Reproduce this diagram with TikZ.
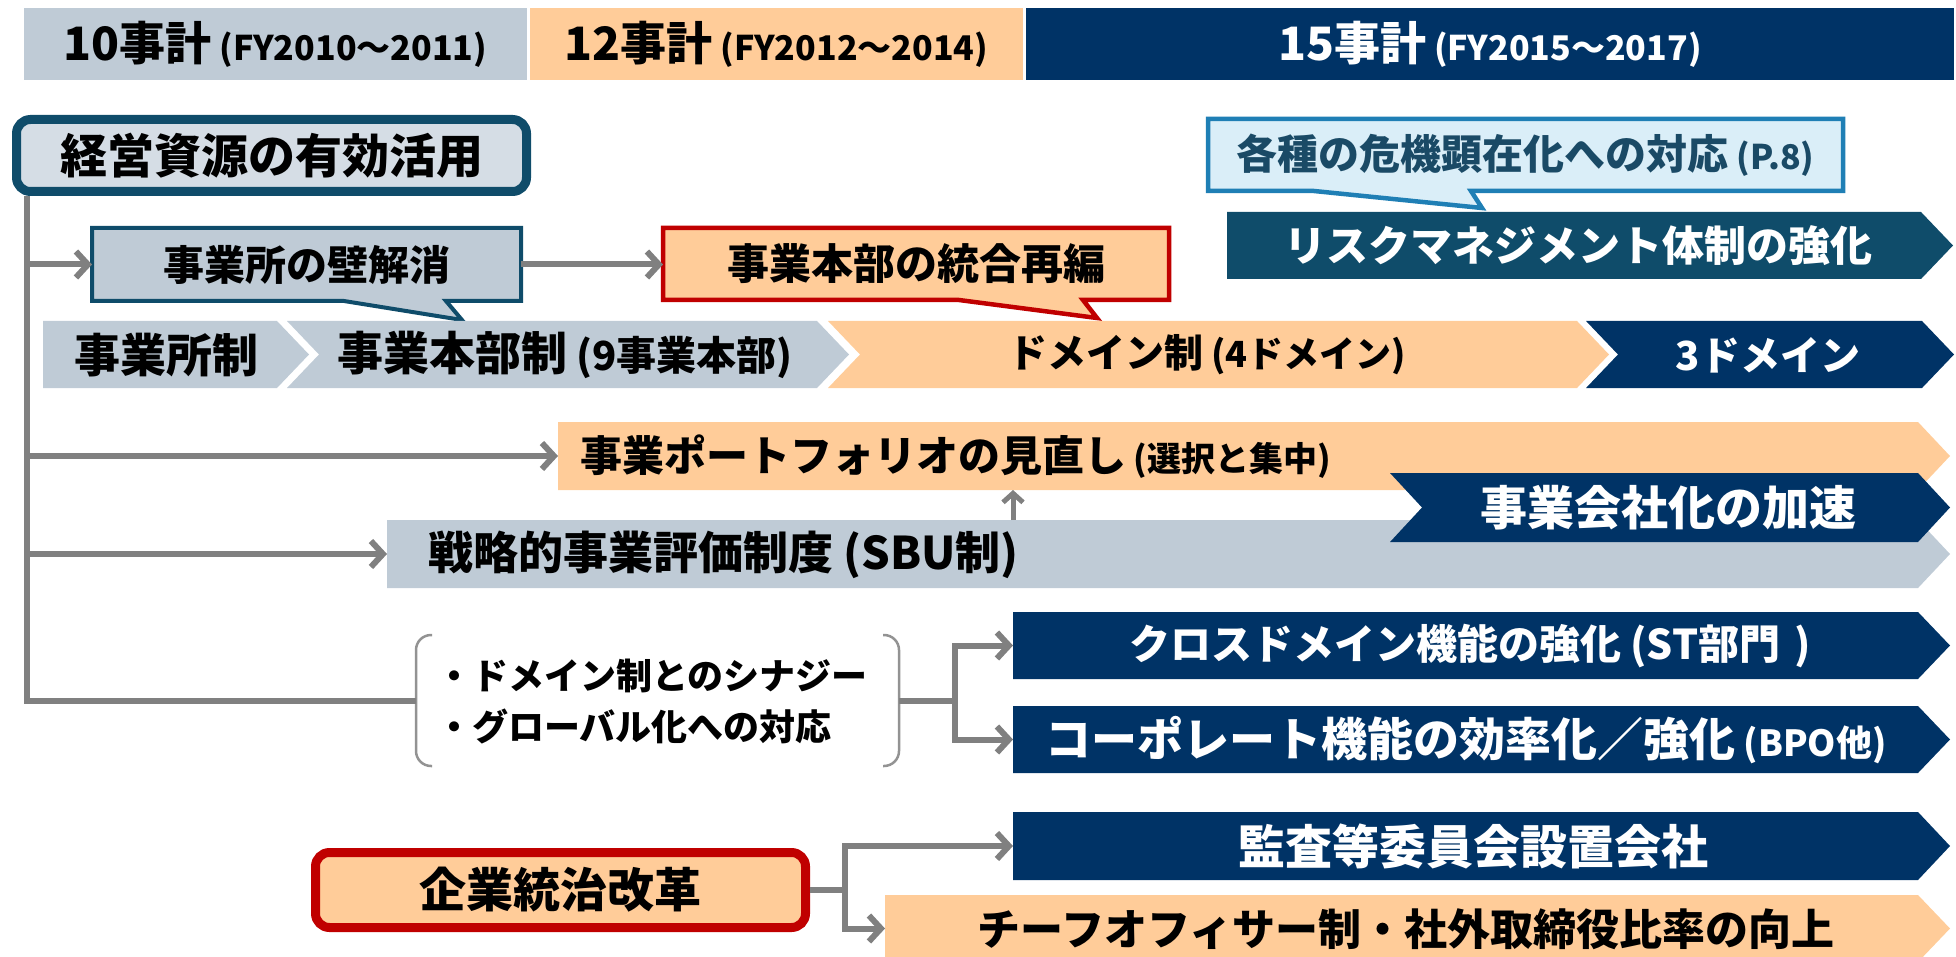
\documentclass[tikz,border=0pt]{standalone}
\usepackage{fontspec}
\setmainfont{Noto Sans CJK JP}
\usetikzlibrary{arrows.meta}
\definecolor{gb}{HTML}{BFCBD6}
\definecolor{gbl}{HTML}{D5DDE5}
\definecolor{orn}{HTML}{FFCC99}
\definecolor{nvy}{HTML}{003366}
\definecolor{tealD}{HTML}{0F4C6A}
\definecolor{redB}{HTML}{C00000}
\definecolor{lblue}{HTML}{DAEEF8}
\definecolor{bblue}{HTML}{1F7FB5}
\definecolor{txtD}{HTML}{1A4A66}
\definecolor{conG}{HTML}{808080}
\newcommand\fs[1]{\fontsize{#1}{#1}\selectfont}
\newcommand\pent[6]{%
  \fill[#6] (#2,#3) -- (#4,#3) -- ({#4+32},{(#3+#5)/2}) -- (#4,#5) -- (#2,#5) -- cycle;
  \node[box, minimum width={#4-#2}, minimum height={#5-#3}] (#1) at ({(#2+#4)/2},{(#3+#5)/2}) {};}
\newcommand\chev[6]{%
  \fill[#6] (#2,#3) -- (#4,#3) -- ({#4+32},{(#3+#5)/2}) -- (#4,#5) -- (#2,#5) -- ({#2+32},{(#3+#5)/2}) -- cycle;
  \node[box, minimum width={#4-#2}, minimum height={#5-#3}] (#1) at ({(#2+#4)/2},{(#3+#5)/2}) {};}
\begin{document}
\begin{tikzpicture}[x=1pt,y=-1pt, font=\bfseries,
  box/.style={inner sep=0pt, outer sep=0pt},
  conn/.style={draw=conG, line width=6pt},
  arr/.style={conn, -{Straight Barb[length=12pt,width=26pt]}},
  hbox/.style={inner sep=0pt, outer sep=0pt, minimum height=72}]
\useasboundingbox (0,0) rectangle (1956,957);

% header
\node[hbox, fill=gb, minimum width=503] (h10) at (275.5,44) {\fs{46}10事計{\fs{34} (FY2010～2011)}};
\node[hbox, fill=orn, minimum width=493] (h12) at (776.5,44) {\fs{46}12事計{\fs{34} (FY2012～2014)}};
\node[hbox, fill=nvy, minimum width=928, text=white] (h15) at (1490,44) {\fs{46}15事計{\fs{34} (FY2015～2017)}};

% main box
\node[draw=tealD, line width=9pt, fill=gbl, rounded corners=14pt, inner sep=0pt, minimum width=510, minimum height=72] (keiei) at (271.5,155.5) {\fs{47}経営資源の有効活用};

% callouts
\filldraw[fill=gb, draw=tealD, line width=4pt] (92,228) -- (521,228) -- (521,301) -- (446,301) -- (462,320) -- (344,301) -- (92,301) -- cycle;
\node[box, minimum width=429, minimum height=73] (kabe) at (306.5,264.5) {\fs{41}事業所の壁解消};
\filldraw[fill=orn, draw=redB, line width=4.5pt] (663,228) -- (1169,228) -- (1169,300) -- (1083,300) -- (1097,318) -- (959,300) -- (663,300) -- cycle;
\node[box, minimum width=506, minimum height=72] (togo) at (916,264) {\fs{42}事業本部の統合再編};
\filldraw[fill=lblue, draw=bblue, line width=4.5pt] (1208,119) -- (1843,119) -- (1843,191) -- (1471,191) -- (1482,208) -- (1314,191) -- (1208,191) -- cycle;
\node[box, minimum width=635, minimum height=72, text=txtD] (kaku) at (1525.5,155) {\fs{41}各種の危機顕在化への対応{\fs{34} (P.8)}};

% risk
\pent{risk}{1227}{212}{1921}{279}{tealD}
\node[box, text=white] (t-risk) at (1578,245.5) {\fs{42}リスクマネジメント体制の強化};

% chevron row
\pent{r1}{43}{321}{277}{388}{gb}
\chev{r2}{287}{321}{817}{388}{gb}
\chev{r3}{828}{321}{1577}{388}{orn}
\chev{r4}{1586}{321}{1922}{388}{nvy}
\node[box] (t-r1) at (166,355) {\fs{46}事業所制};
\node[box] (t-r2) at (565,355) {\fs{46}事業本部制{\fs{40} (9事業本部)}};
\node[box] (t-r3) at (1207,355) {\fs{39}ドメイン制{\fs{36} (4ドメイン)}};
\node[box, text=white] (t-r4) at (1768,355) {\fs{40}3ドメイン};

% portfolio / SBU / jigyo kaisha
\pent{portf}{558}{422}{1918}{490}{orn}
\pent{senryaku}{387}{520}{1918}{588}{gb}
\chev{jk}{1390}{473}{1918}{542}{nvy}
\node[box, anchor=west] (t-portf) at (580,457) {\fs{42}事業ポートフォリオの見直し{\fs{34} (選択と集中)}};
\node[box, anchor=west] (t-senryaku) at (428,555) {\fs{45}戦略的事業評価制度 (SBU制)};
\node[box, text=white] (t-jk) at (1668,507.5) {\fs{47}事業会社化の加速};
\coordinate (upx) at (1013,500);
\draw[conn, line width=5pt, -{Straight Barb[length=9pt,width=20pt]}] (senryaku.north -| upx) -- (portf.south -| upx);

% bracket
\node[box, minimum width=483, minimum height=131] (brk) at (657.5,700.5) {};
\draw[draw=conG!85, line width=2.5pt, rounded corners=15pt] (432,635) -- (416,635) -- (416,766) -- (432,766);
\draw[draw=conG!85, line width=2.5pt, rounded corners=15pt] (883,635) -- (899,635) -- (899,766) -- (883,766);
\node[box, anchor=west, align=left, font=\bfseries\fontsize{36}{51}\selectfont] (t-brk) at (436,702) {・ドメイン制とのシナジー\\・グローバル化への対応};

% right column
\pent{cross}{1013}{612}{1918}{679}{nvy}
\pent{corp}{1013}{706}{1918}{773}{nvy}
\pent{kansa}{1013}{812}{1918}{880}{nvy}
\pent{chief}{885}{895}{1918}{962}{orn}
\node[box, text=white] (t-cross) at (1470,646) {\fs{41}クロスドメイン機能の強化 (ST部門\hspace{14pt})};
\node[box, text=white] (t-corp) at (1466,740) {\fs{46}コーポレート機能の効率化／強化{\fs{36} (BPO他)}};
\node[box, text=white] (t-kansa) at (1473,846) {\fs{47}監査等委員会設置会社};
\node[box] (t-chief) at (1406,929) {\fs{43}チーフオフィサー制・社外取締役比率の向上};

% governance
\node[draw=redB, line width=9pt, fill=orn, rounded corners=14pt, inner sep=0pt, minimum width=490, minimum height=75] (kigyo) at (560.5,890) {\fs{47}企業統治改革};

% connectors
\coordinate (tr0) at (27,196);
\draw[conn] (tr0) |- (brk.west);
\draw[arr] (tr0 |- kabe.west) -- (kabe.west);
\draw[arr] (kabe.east) -- (kabe.east -| togo.west);
\draw[arr] (tr0 |- portf.west) -- (portf.west);
\draw[arr] (tr0 |- senryaku.west) -- (senryaku.west);
\coordinate (sp1) at (955,700);
\draw[conn] (brk.east) -- (brk.east -| sp1);
\draw[arr] (brk.east -| sp1) |- (cross.west);
\draw[arr] (brk.east -| sp1) |- (corp.west);
\coordinate (sp2) at (845,890);
\draw[conn] (kigyo.east) -- (kigyo.east -| sp2);
\draw[arr] (kigyo.east -| sp2) |- (kansa.west);
\draw[arr] (kigyo.east -| sp2) |- (chief.west);
\end{tikzpicture}
\end{document}
